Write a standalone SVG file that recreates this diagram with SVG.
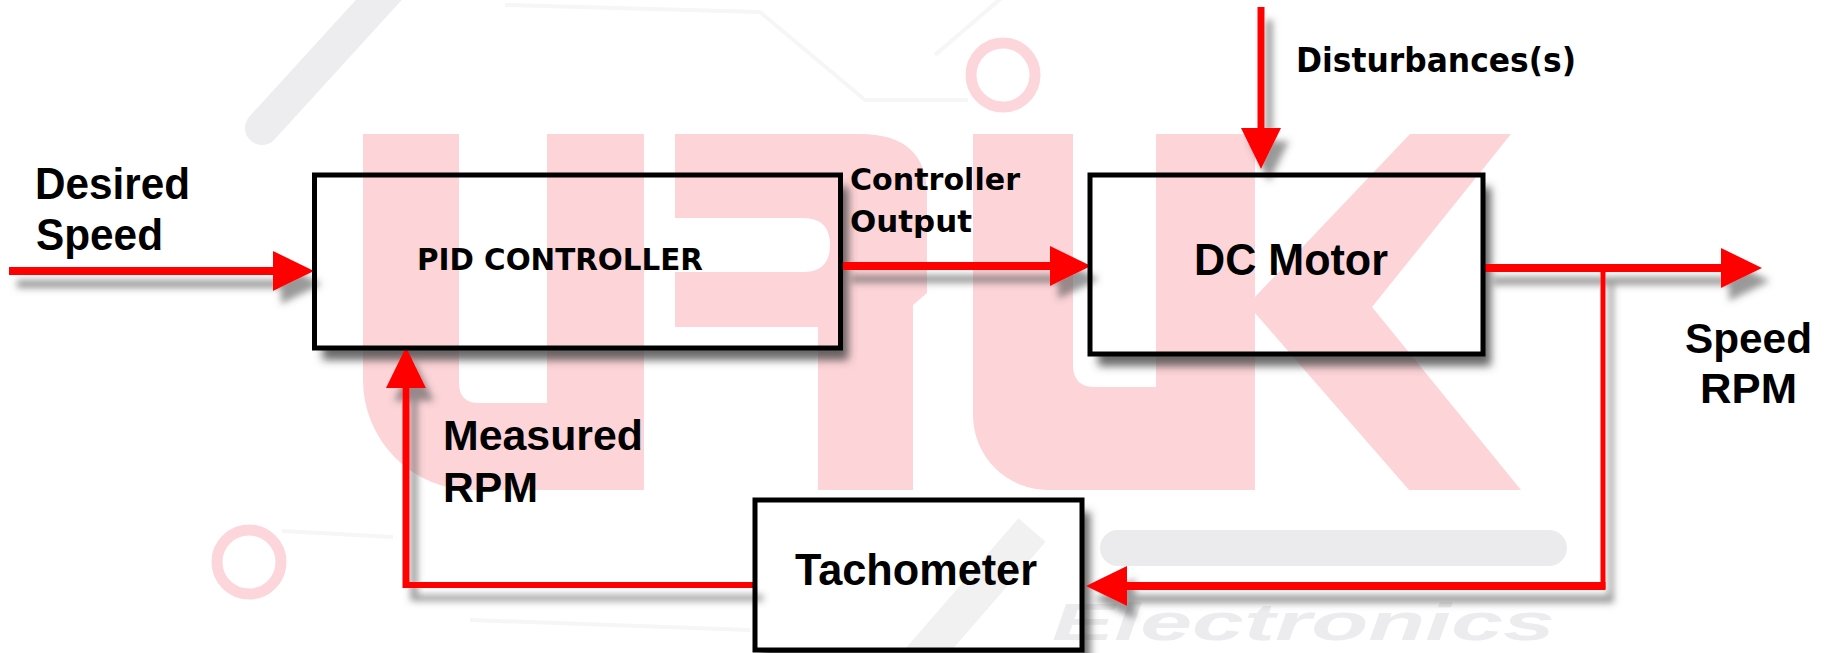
<svg xmlns="http://www.w3.org/2000/svg" width="1829" height="653" viewBox="0 0 1829 653">
<defs>
<style>
.wm{fill:#fdd4d8}
.ring{fill:none;stroke:#fcd6da;stroke-width:11}
.faint{fill:none;stroke:#f6f6f6;stroke-width:4}
.box{fill:none;stroke:#000;stroke-width:5}
.shsrc{fill:#000}
.ln{fill:none;stroke:#ff0000;stroke-linejoin:miter;stroke-linecap:butt}
.lbl{font-family:"Liberation Sans",Arial,sans-serif;font-weight:bold;fill:#000}
.tah{font-family:"DejaVu Sans",Verdana,sans-serif;font-weight:bold;fill:#000}
</style>
<filter id="boxsh" filterUnits="userSpaceOnUse" x="0" y="0" width="1829" height="653">
<feGaussianBlur in="SourceAlpha" stdDeviation="4.5"/>
<feOffset dx="8" dy="12" result="b"/>
<feFlood flood-color="#444" flood-opacity="0.8"/>
<feComposite in2="b" operator="in" result="s"/>
<feComposite in="s" in2="SourceAlpha" operator="out"/>
</filter>
<filter id="arrsh" filterUnits="userSpaceOnUse" x="0" y="0" width="1829" height="653">
<feGaussianBlur in="SourceAlpha" stdDeviation="3.5"/>
<feOffset dx="8" dy="13" result="b"/>
<feFlood flood-color="#555" flood-opacity="0.6"/>
<feComposite in2="b" operator="in" result="s"/>
<feMerge><feMergeNode in="s"/><feMergeNode in="SourceGraphic"/></feMerge>
</filter>
<marker id="ah" markerUnits="userSpaceOnUse" viewBox="0 0 41 40" markerWidth="41" markerHeight="40" refX="0" refY="20" orient="auto" overflow="visible">
<path d="M0,0 L41,20 L0,40 Z" fill="#ff0000"/>
</marker>
</defs>

<rect width="1829" height="653" fill="#ffffff"/>

<g id="watermark">
<line x1="397" y1="-20" x2="262" y2="128" stroke="#ededef" stroke-width="34" stroke-linecap="round"/>
<polyline class="faint" points="505,5 760,12 865,100 968,100"/>
<polyline class="faint" points="935,55 1005,-5"/>
<polyline class="faint" points="282,531 393,537"/>
<polyline class="faint" points="470,620 750,630"/>
<line x1="1032" y1="530" x2="915" y2="665" stroke="#f1f1f2" stroke-width="36"/>
<rect x="1100" y="530" width="467" height="36" rx="18" fill="#ebebed"/>
<text x="1052" y="640" font-family="Liberation Sans, Arial, sans-serif" font-weight="bold" font-style="italic" font-size="52" fill="#ececee" textLength="503" lengthAdjust="spacingAndGlyphs">Electronics</text>
<path class="wm" d="M363,134 H459 V383 Q459,403 479,403 H547 V134 H644 V490 H473 A110,110 0 0 1 363,380 Z"/>
<path class="wm" fill-rule="evenodd" d="M675,134 H860 Q927,134 927,195 V293 L913,305 V490 H818 V327 H675 Z M675,218 H803 Q830,218 830,245 Q830,272 803,272 H675 Z"/>
<path class="wm" d="M973,134 H1073 V365 Q1073,387 1095,387 H1156 V134 H1255 V490 H1048 A75,75 0 0 1 973,415 Z"/>
<polygon class="wm" points="1255,297 1410,134 1511,134 1372,307 1521,490 1409,490 1255,313"/>
<circle class="ring" cx="1003" cy="75" r="32"/>
<circle class="ring" cx="249" cy="562" r="32" stroke-width="10"/>
</g>

<g id="box-shadows" filter="url(#boxsh)">
<rect class="shsrc" x="314.5" y="175" width="526" height="173"/>
<rect class="shsrc" x="1090" y="175" width="393" height="179"/>
<rect class="shsrc" x="755" y="500" width="327" height="150"/>
</g>

<g id="connectors" filter="url(#arrsh)">
<path class="ln" stroke-width="8" d="M9,271 H273" marker-end="url(#ah)"/>
<path class="ln" stroke-width="8" d="M843,266 H1050" marker-end="url(#ah)"/>
<path class="ln" stroke-width="7" d="M1261,7 V128" marker-end="url(#ah)"/>
<path class="ln" stroke-width="8" d="M1485,268 H1721" marker-end="url(#ah)"/>
<path class="ln" stroke-width="5" d="M1603,268 V589"/>
<path class="ln" stroke-width="8" d="M1605.5,586 H1127" marker-end="url(#ah)"/>
<path class="ln" stroke-width="6" d="M755,585 H403"/>
<path class="ln" stroke-width="7" d="M406,588 V388" marker-end="url(#ah)"/>
</g>

<g id="pid">
<rect class="box" x="314.5" y="175" width="526" height="173"/>
<text class="tah" x="417" y="270" font-size="31" textLength="286" lengthAdjust="spacingAndGlyphs">PID CONTROLLER</text>
</g>

<g id="motor">
<rect class="box" x="1090" y="175" width="393" height="179"/>
<text class="lbl" x="1194" y="275" font-size="44" textLength="194" lengthAdjust="spacingAndGlyphs">DC Motor</text>
</g>

<g id="tacho">
<rect class="box" x="755" y="500" width="327" height="150"/>
<text class="lbl" x="795" y="585" font-size="44" textLength="242" lengthAdjust="spacingAndGlyphs">Tachometer</text>
</g>

<g id="labels">
<text class="lbl" x="35" y="199" font-size="44" textLength="155" lengthAdjust="spacingAndGlyphs">Desired</text>
<text class="lbl" x="36" y="250" font-size="44" textLength="127" lengthAdjust="spacingAndGlyphs">Speed</text>
<text class="tah" x="850" y="190" font-size="31" textLength="170" lengthAdjust="spacingAndGlyphs">Controller</text>
<text class="tah" x="850" y="232" font-size="31" textLength="122" lengthAdjust="spacingAndGlyphs">Output</text>
<text class="tah" x="1296" y="72" font-size="34" textLength="280" lengthAdjust="spacingAndGlyphs">Disturbances(s)</text>
<text class="lbl" x="1685" y="353" font-size="43" textLength="127" lengthAdjust="spacingAndGlyphs">Speed</text>
<text class="lbl" x="1700" y="403" font-size="43" textLength="97" lengthAdjust="spacingAndGlyphs">RPM</text>
<text class="lbl" x="443" y="450" font-size="42" textLength="200" lengthAdjust="spacingAndGlyphs">Measured</text>
<text class="lbl" x="443" y="502" font-size="42" textLength="95" lengthAdjust="spacingAndGlyphs">RPM</text>
</g>
</svg>
